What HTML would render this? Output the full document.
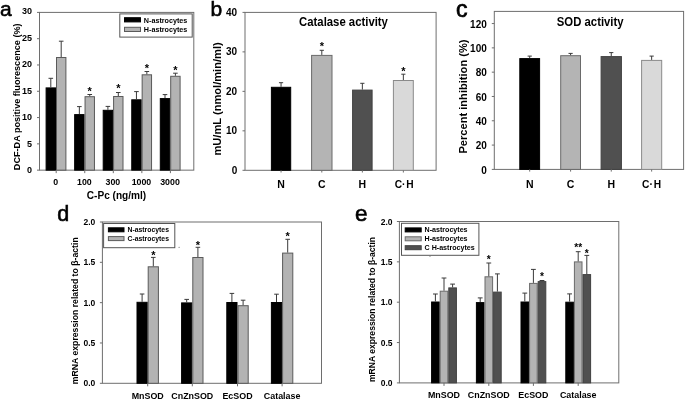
<!DOCTYPE html>
<html><head><meta charset="utf-8"><style>
html,body{margin:0;padding:0;background:#fff;}
svg{display:block;font-family:"Liberation Sans", sans-serif;filter:grayscale(1) blur(0.25px);}
</style></head><body>
<svg width="685" height="399" viewBox="0 0 685 399">
<rect width="685" height="399" fill="#fff"/>
<rect x="39.50" y="12.40" width="154.30" height="157.75" fill="none" stroke="#6e6e6e" stroke-width="1"/>
<line x1="37.00" y1="170.15" x2="39.50" y2="170.15" stroke="#6e6e6e" stroke-width="1"/>
<text x="31.90" y="173.05" font-size="9" font-weight="bold" text-anchor="end" fill="#000">0</text>
<line x1="37.00" y1="143.86" x2="39.50" y2="143.86" stroke="#6e6e6e" stroke-width="1"/>
<text x="31.90" y="146.61" font-size="9" font-weight="bold" text-anchor="end" fill="#000">5</text>
<line x1="37.00" y1="117.57" x2="39.50" y2="117.57" stroke="#6e6e6e" stroke-width="1"/>
<text x="31.90" y="120.17" font-size="9" font-weight="bold" text-anchor="end" fill="#000">10</text>
<line x1="37.00" y1="91.28" x2="39.50" y2="91.28" stroke="#6e6e6e" stroke-width="1"/>
<text x="31.90" y="93.73" font-size="9" font-weight="bold" text-anchor="end" fill="#000">15</text>
<line x1="37.00" y1="64.98" x2="39.50" y2="64.98" stroke="#6e6e6e" stroke-width="1"/>
<text x="31.90" y="67.28" font-size="9" font-weight="bold" text-anchor="end" fill="#000">20</text>
<line x1="37.00" y1="38.69" x2="39.50" y2="38.69" stroke="#6e6e6e" stroke-width="1"/>
<text x="31.90" y="40.84" font-size="9" font-weight="bold" text-anchor="end" fill="#000">25</text>
<line x1="37.00" y1="12.40" x2="39.50" y2="12.40" stroke="#6e6e6e" stroke-width="1"/>
<text x="31.90" y="14.40" font-size="9" font-weight="bold" text-anchor="end" fill="#000">30</text>
<rect x="46.10" y="87.90" width="9.40" height="82.25" fill="#000" stroke="#000" stroke-width="1"/>
<rect x="56.50" y="57.50" width="9.40" height="112.65" fill="#b3b3b3" stroke="#5a5a5a" stroke-width="1"/>
<line x1="50.80" y1="78.30" x2="50.80" y2="87.40" stroke="#3a3a3a" stroke-width="1"/>
<line x1="48.50" y1="78.30" x2="53.10" y2="78.30" stroke="#3a3a3a" stroke-width="1"/>
<line x1="61.20" y1="41.20" x2="61.20" y2="57.00" stroke="#3a3a3a" stroke-width="1"/>
<line x1="58.90" y1="41.20" x2="63.50" y2="41.20" stroke="#3a3a3a" stroke-width="1"/>
<line x1="56.20" y1="170.15" x2="56.20" y2="173.15" stroke="#6e6e6e" stroke-width="1"/>
<text x="55.80" y="185.00" font-size="8.8" font-weight="bold" text-anchor="middle" fill="#000">0</text>
<rect x="74.65" y="114.60" width="9.40" height="55.55" fill="#000" stroke="#000" stroke-width="1"/>
<rect x="85.05" y="96.70" width="9.40" height="73.45" fill="#b3b3b3" stroke="#5a5a5a" stroke-width="1"/>
<line x1="79.35" y1="106.60" x2="79.35" y2="114.10" stroke="#3a3a3a" stroke-width="1"/>
<line x1="77.05" y1="106.60" x2="81.65" y2="106.60" stroke="#3a3a3a" stroke-width="1"/>
<line x1="89.75" y1="94.50" x2="89.75" y2="96.20" stroke="#3a3a3a" stroke-width="1"/>
<line x1="87.45" y1="94.50" x2="92.05" y2="94.50" stroke="#3a3a3a" stroke-width="1"/>
<text x="89.75" y="94.72" font-size="11" font-weight="bold" text-anchor="middle" fill="#000">*</text>
<line x1="84.75" y1="170.15" x2="84.75" y2="173.15" stroke="#6e6e6e" stroke-width="1"/>
<text x="84.35" y="185.00" font-size="8.8" font-weight="bold" text-anchor="middle" fill="#000">100</text>
<rect x="103.20" y="110.30" width="9.40" height="59.85" fill="#000" stroke="#000" stroke-width="1"/>
<rect x="113.60" y="96.50" width="9.40" height="73.65" fill="#b3b3b3" stroke="#5a5a5a" stroke-width="1"/>
<line x1="107.90" y1="106.40" x2="107.90" y2="109.80" stroke="#3a3a3a" stroke-width="1"/>
<line x1="105.60" y1="106.40" x2="110.20" y2="106.40" stroke="#3a3a3a" stroke-width="1"/>
<line x1="118.30" y1="92.50" x2="118.30" y2="96.00" stroke="#3a3a3a" stroke-width="1"/>
<line x1="116.00" y1="92.50" x2="120.60" y2="92.50" stroke="#3a3a3a" stroke-width="1"/>
<text x="118.30" y="92.32" font-size="11" font-weight="bold" text-anchor="middle" fill="#000">*</text>
<line x1="113.30" y1="170.15" x2="113.30" y2="173.15" stroke="#6e6e6e" stroke-width="1"/>
<text x="112.90" y="185.00" font-size="8.8" font-weight="bold" text-anchor="middle" fill="#000">300</text>
<rect x="131.75" y="99.80" width="9.40" height="70.35" fill="#000" stroke="#000" stroke-width="1"/>
<rect x="142.15" y="74.80" width="9.40" height="95.35" fill="#b3b3b3" stroke="#5a5a5a" stroke-width="1"/>
<line x1="136.45" y1="91.60" x2="136.45" y2="99.30" stroke="#3a3a3a" stroke-width="1"/>
<line x1="134.15" y1="91.60" x2="138.75" y2="91.60" stroke="#3a3a3a" stroke-width="1"/>
<line x1="146.85" y1="71.50" x2="146.85" y2="74.30" stroke="#3a3a3a" stroke-width="1"/>
<line x1="144.55" y1="71.50" x2="149.15" y2="71.50" stroke="#3a3a3a" stroke-width="1"/>
<text x="146.85" y="72.32" font-size="11" font-weight="bold" text-anchor="middle" fill="#000">*</text>
<line x1="141.85" y1="170.15" x2="141.85" y2="173.15" stroke="#6e6e6e" stroke-width="1"/>
<text x="141.45" y="185.00" font-size="8.8" font-weight="bold" text-anchor="middle" fill="#000">1000</text>
<rect x="160.30" y="98.60" width="9.40" height="71.55" fill="#000" stroke="#000" stroke-width="1"/>
<rect x="170.70" y="76.30" width="9.40" height="93.85" fill="#b3b3b3" stroke="#5a5a5a" stroke-width="1"/>
<line x1="165.00" y1="94.60" x2="165.00" y2="98.10" stroke="#3a3a3a" stroke-width="1"/>
<line x1="162.70" y1="94.60" x2="167.30" y2="94.60" stroke="#3a3a3a" stroke-width="1"/>
<line x1="175.40" y1="73.20" x2="175.40" y2="75.80" stroke="#3a3a3a" stroke-width="1"/>
<line x1="173.10" y1="73.20" x2="177.70" y2="73.20" stroke="#3a3a3a" stroke-width="1"/>
<text x="175.40" y="74.02" font-size="11" font-weight="bold" text-anchor="middle" fill="#000">*</text>
<line x1="170.40" y1="170.15" x2="170.40" y2="173.15" stroke="#6e6e6e" stroke-width="1"/>
<text x="170.00" y="185.00" font-size="8.8" font-weight="bold" text-anchor="middle" fill="#000">3000</text>
<text x="116.50" y="199.00" font-size="10.1" font-weight="bold" text-anchor="middle" fill="#000">C-Pc (ng/ml)</text>
<text x="20.00" y="96.80" font-size="9.1" font-weight="bold" text-anchor="middle" fill="#000" transform="rotate(-90 20.00 96.80)">DCF-DA positive fluorescence (%)</text>
<text x="0.00" y="15.90" font-size="21" font-weight="normal" text-anchor="start" fill="#000" stroke="#000" stroke-width="0.6">a</text>
<rect x="119.80" y="13.90" width="72.40" height="23.20" fill="#fff" stroke="#555" stroke-width="1"/>
<rect x="124.50" y="17.70" width="16.00" height="4.20" fill="#000" stroke="#000" stroke-width="1"/>
<rect x="124.50" y="27.30" width="16.00" height="4.20" fill="#b3b3b3" stroke="#5a5a5a" stroke-width="1"/>
<text x="143.80" y="23.00" font-size="7.2" font-weight="bold" text-anchor="start" fill="#000">N-astrocytes</text>
<text x="143.80" y="32.40" font-size="7.2" font-weight="bold" text-anchor="start" fill="#000">H-astrocytes</text>
<rect x="245.00" y="12.40" width="191.10" height="157.90" fill="none" stroke="#6e6e6e" stroke-width="1"/>
<line x1="242.50" y1="170.30" x2="245.00" y2="170.30" stroke="#6e6e6e" stroke-width="1"/>
<text x="237.20" y="173.90" font-size="10" font-weight="bold" text-anchor="end" fill="#000">0</text>
<line x1="242.50" y1="130.83" x2="245.00" y2="130.83" stroke="#6e6e6e" stroke-width="1"/>
<text x="237.20" y="134.43" font-size="10" font-weight="bold" text-anchor="end" fill="#000">10</text>
<line x1="242.50" y1="91.35" x2="245.00" y2="91.35" stroke="#6e6e6e" stroke-width="1"/>
<text x="237.20" y="94.95" font-size="10" font-weight="bold" text-anchor="end" fill="#000">20</text>
<line x1="242.50" y1="51.88" x2="245.00" y2="51.88" stroke="#6e6e6e" stroke-width="1"/>
<text x="237.20" y="55.48" font-size="10" font-weight="bold" text-anchor="end" fill="#000">30</text>
<line x1="242.50" y1="12.40" x2="245.00" y2="12.40" stroke="#6e6e6e" stroke-width="1"/>
<text x="237.20" y="16.00" font-size="10" font-weight="bold" text-anchor="end" fill="#000">40</text>
<rect x="271.40" y="87.30" width="19.30" height="83.00" fill="#000" stroke="#000" stroke-width="1"/>
<line x1="281.05" y1="82.70" x2="281.05" y2="86.80" stroke="#3a3a3a" stroke-width="1"/>
<line x1="278.95" y1="82.70" x2="283.15" y2="82.70" stroke="#3a3a3a" stroke-width="1"/>
<line x1="281.05" y1="170.30" x2="281.05" y2="172.50" stroke="#6e6e6e" stroke-width="1"/>
<text x="281.05" y="188.30" font-size="10.5" font-weight="bold" text-anchor="middle" fill="#000">N</text>
<rect x="311.60" y="55.40" width="20.40" height="114.90" fill="#b4b4b4" stroke="#6a6a6a" stroke-width="1"/>
<line x1="321.80" y1="50.30" x2="321.80" y2="54.90" stroke="#3a3a3a" stroke-width="1"/>
<line x1="319.70" y1="50.30" x2="323.90" y2="50.30" stroke="#3a3a3a" stroke-width="1"/>
<text x="321.80" y="50.32" font-size="11" font-weight="bold" text-anchor="middle" fill="#000">*</text>
<line x1="321.80" y1="170.30" x2="321.80" y2="172.50" stroke="#6e6e6e" stroke-width="1"/>
<text x="321.80" y="188.30" font-size="10.5" font-weight="bold" text-anchor="middle" fill="#000">C</text>
<rect x="352.60" y="90.10" width="19.50" height="80.20" fill="#505050" stroke="#404040" stroke-width="1"/>
<line x1="362.35" y1="83.30" x2="362.35" y2="89.60" stroke="#3a3a3a" stroke-width="1"/>
<line x1="360.25" y1="83.30" x2="364.45" y2="83.30" stroke="#3a3a3a" stroke-width="1"/>
<line x1="362.35" y1="170.30" x2="362.35" y2="172.50" stroke="#6e6e6e" stroke-width="1"/>
<text x="362.35" y="188.30" font-size="10.5" font-weight="bold" text-anchor="middle" fill="#000">H</text>
<rect x="393.40" y="80.50" width="19.90" height="89.80" fill="#d9d9d9" stroke="#8a8a8a" stroke-width="1"/>
<line x1="403.35" y1="74.20" x2="403.35" y2="80.00" stroke="#3a3a3a" stroke-width="1"/>
<line x1="401.25" y1="74.20" x2="405.45" y2="74.20" stroke="#3a3a3a" stroke-width="1"/>
<text x="403.35" y="74.52" font-size="11" font-weight="bold" text-anchor="middle" fill="#000">*</text>
<line x1="403.35" y1="170.30" x2="403.35" y2="172.50" stroke="#6e6e6e" stroke-width="1"/>
<text x="398.40" y="188.40" font-size="10.2" font-weight="bold" text-anchor="middle" fill="#000">C</text>
<text x="403.70" y="188.40" font-size="10.2" font-weight="bold" text-anchor="middle" fill="#000">·</text>
<text x="410.00" y="188.40" font-size="10.2" font-weight="bold" text-anchor="middle" fill="#000">H</text>
<text x="343.50" y="25.70" font-size="12.4" font-weight="bold" text-anchor="middle" fill="#000" transform="translate(343.50 25.70) scale(0.915 1) translate(-343.50 -25.70)">Catalase activity</text>
<text x="221.00" y="98.90" font-size="11.1" font-weight="bold" text-anchor="middle" fill="#000" transform="rotate(-90 221.00 98.90)">mU/mL (nmol/min/ml)</text>
<text x="210.50" y="16.00" font-size="21" font-weight="normal" text-anchor="start" fill="#000" stroke="#000" stroke-width="0.6">b</text>
<rect x="494.30" y="11.40" width="189.30" height="158.00" fill="none" stroke="#6e6e6e" stroke-width="1"/>
<line x1="491.80" y1="169.40" x2="494.30" y2="169.40" stroke="#6e6e6e" stroke-width="1"/>
<text x="486.80" y="173.60" font-size="10" font-weight="bold" text-anchor="end" fill="#000">0</text>
<line x1="491.80" y1="145.09" x2="494.30" y2="145.09" stroke="#6e6e6e" stroke-width="1"/>
<text x="486.80" y="149.29" font-size="10" font-weight="bold" text-anchor="end" fill="#000">20</text>
<line x1="491.80" y1="120.78" x2="494.30" y2="120.78" stroke="#6e6e6e" stroke-width="1"/>
<text x="486.80" y="124.98" font-size="10" font-weight="bold" text-anchor="end" fill="#000">40</text>
<line x1="491.80" y1="96.48" x2="494.30" y2="96.48" stroke="#6e6e6e" stroke-width="1"/>
<text x="486.80" y="100.68" font-size="10" font-weight="bold" text-anchor="end" fill="#000">60</text>
<line x1="491.80" y1="72.17" x2="494.30" y2="72.17" stroke="#6e6e6e" stroke-width="1"/>
<text x="486.80" y="76.37" font-size="10" font-weight="bold" text-anchor="end" fill="#000">80</text>
<line x1="491.80" y1="47.86" x2="494.30" y2="47.86" stroke="#6e6e6e" stroke-width="1"/>
<text x="486.80" y="52.06" font-size="10" font-weight="bold" text-anchor="end" fill="#000">100</text>
<line x1="491.80" y1="23.55" x2="494.30" y2="23.55" stroke="#6e6e6e" stroke-width="1"/>
<text x="486.80" y="27.75" font-size="10" font-weight="bold" text-anchor="end" fill="#000">120</text>
<rect x="519.80" y="58.60" width="19.80" height="110.80" fill="#000" stroke="#000" stroke-width="1"/>
<line x1="529.70" y1="56.10" x2="529.70" y2="58.10" stroke="#3a3a3a" stroke-width="1"/>
<line x1="527.60" y1="56.10" x2="531.80" y2="56.10" stroke="#3a3a3a" stroke-width="1"/>
<line x1="529.70" y1="169.40" x2="529.70" y2="171.60" stroke="#6e6e6e" stroke-width="1"/>
<text x="529.70" y="188.30" font-size="10.5" font-weight="bold" text-anchor="middle" fill="#000">N</text>
<rect x="560.70" y="55.70" width="19.80" height="113.70" fill="#b4b4b4" stroke="#6a6a6a" stroke-width="1"/>
<line x1="570.60" y1="53.40" x2="570.60" y2="55.20" stroke="#3a3a3a" stroke-width="1"/>
<line x1="568.50" y1="53.40" x2="572.70" y2="53.40" stroke="#3a3a3a" stroke-width="1"/>
<line x1="570.60" y1="169.40" x2="570.60" y2="171.60" stroke="#6e6e6e" stroke-width="1"/>
<text x="570.60" y="188.30" font-size="10.5" font-weight="bold" text-anchor="middle" fill="#000">C</text>
<rect x="601.10" y="56.60" width="20.30" height="112.80" fill="#505050" stroke="#404040" stroke-width="1"/>
<line x1="611.25" y1="52.60" x2="611.25" y2="56.10" stroke="#3a3a3a" stroke-width="1"/>
<line x1="609.15" y1="52.60" x2="613.35" y2="52.60" stroke="#3a3a3a" stroke-width="1"/>
<line x1="611.25" y1="169.40" x2="611.25" y2="171.60" stroke="#6e6e6e" stroke-width="1"/>
<text x="611.25" y="188.30" font-size="10.5" font-weight="bold" text-anchor="middle" fill="#000">H</text>
<rect x="641.60" y="60.40" width="20.10" height="109.00" fill="#d9d9d9" stroke="#8a8a8a" stroke-width="1"/>
<line x1="651.65" y1="56.10" x2="651.65" y2="59.90" stroke="#3a3a3a" stroke-width="1"/>
<line x1="649.55" y1="56.10" x2="653.75" y2="56.10" stroke="#3a3a3a" stroke-width="1"/>
<line x1="651.65" y1="169.40" x2="651.65" y2="171.60" stroke="#6e6e6e" stroke-width="1"/>
<text x="645.80" y="187.90" font-size="10.2" font-weight="bold" text-anchor="middle" fill="#000">C</text>
<text x="651.10" y="187.90" font-size="10.2" font-weight="bold" text-anchor="middle" fill="#000">·</text>
<text x="657.40" y="187.90" font-size="10.2" font-weight="bold" text-anchor="middle" fill="#000">H</text>
<text x="590.20" y="25.90" font-size="12.4" font-weight="bold" text-anchor="middle" fill="#000" transform="translate(590.20 25.90) scale(0.915 1) translate(-590.20 -25.90)">SOD activity</text>
<text x="466.70" y="96.50" font-size="11.1" font-weight="bold" text-anchor="middle" fill="#000" transform="rotate(-90 466.70 96.50)">Percent inhibition (%)</text>
<text x="455.90" y="16.50" font-size="23" font-weight="normal" text-anchor="start" fill="#000" stroke="#000" stroke-width="0.7">c</text>
<rect x="102.40" y="222.00" width="219.10" height="161.30" fill="none" stroke="#6e6e6e" stroke-width="1"/>
<line x1="99.90" y1="383.30" x2="102.40" y2="383.30" stroke="#6e6e6e" stroke-width="1"/>
<text x="95.30" y="386.30" font-size="8.5" font-weight="bold" text-anchor="end" fill="#000">0.0</text>
<line x1="99.90" y1="342.98" x2="102.40" y2="342.98" stroke="#6e6e6e" stroke-width="1"/>
<text x="95.30" y="345.98" font-size="8.5" font-weight="bold" text-anchor="end" fill="#000">0.5</text>
<line x1="99.90" y1="302.65" x2="102.40" y2="302.65" stroke="#6e6e6e" stroke-width="1"/>
<text x="95.30" y="305.65" font-size="8.5" font-weight="bold" text-anchor="end" fill="#000">1.0</text>
<line x1="99.90" y1="262.32" x2="102.40" y2="262.32" stroke="#6e6e6e" stroke-width="1"/>
<text x="95.30" y="265.32" font-size="8.5" font-weight="bold" text-anchor="end" fill="#000">1.5</text>
<line x1="99.90" y1="222.00" x2="102.40" y2="222.00" stroke="#6e6e6e" stroke-width="1"/>
<text x="95.30" y="225.00" font-size="8.5" font-weight="bold" text-anchor="end" fill="#000">2.0</text>
<rect x="137.00" y="302.30" width="10.20" height="81.00" fill="#000" stroke="#000" stroke-width="1"/>
<rect x="148.20" y="266.80" width="10.20" height="116.50" fill="#b3b3b3" stroke="#5a5a5a" stroke-width="1"/>
<line x1="142.10" y1="294.00" x2="142.10" y2="301.80" stroke="#3a3a3a" stroke-width="1"/>
<line x1="139.80" y1="294.00" x2="144.40" y2="294.00" stroke="#3a3a3a" stroke-width="1"/>
<line x1="153.30" y1="257.40" x2="153.30" y2="266.30" stroke="#3a3a3a" stroke-width="1"/>
<line x1="151.00" y1="257.40" x2="155.60" y2="257.40" stroke="#3a3a3a" stroke-width="1"/>
<text x="153.30" y="259.02" font-size="11" font-weight="bold" text-anchor="middle" fill="#000">*</text>
<line x1="147.70" y1="383.30" x2="147.70" y2="386.30" stroke="#6e6e6e" stroke-width="1"/>
<text x="147.70" y="398.60" font-size="8.9" font-weight="bold" text-anchor="middle" fill="#000">MnSOD</text>
<rect x="181.60" y="302.90" width="10.20" height="80.40" fill="#000" stroke="#000" stroke-width="1"/>
<rect x="192.80" y="257.50" width="10.20" height="125.80" fill="#b3b3b3" stroke="#5a5a5a" stroke-width="1"/>
<line x1="186.70" y1="299.40" x2="186.70" y2="302.40" stroke="#3a3a3a" stroke-width="1"/>
<line x1="184.40" y1="299.40" x2="189.00" y2="299.40" stroke="#3a3a3a" stroke-width="1"/>
<line x1="197.90" y1="247.30" x2="197.90" y2="257.00" stroke="#3a3a3a" stroke-width="1"/>
<line x1="195.60" y1="247.30" x2="200.20" y2="247.30" stroke="#3a3a3a" stroke-width="1"/>
<text x="197.90" y="248.72" font-size="11" font-weight="bold" text-anchor="middle" fill="#000">*</text>
<line x1="192.30" y1="383.30" x2="192.30" y2="386.30" stroke="#6e6e6e" stroke-width="1"/>
<text x="192.30" y="398.60" font-size="8.9" font-weight="bold" text-anchor="middle" fill="#000">CnZnSOD</text>
<rect x="226.80" y="302.50" width="10.20" height="80.80" fill="#000" stroke="#000" stroke-width="1"/>
<rect x="238.00" y="305.70" width="10.20" height="77.60" fill="#b3b3b3" stroke="#5a5a5a" stroke-width="1"/>
<line x1="231.90" y1="293.40" x2="231.90" y2="302.00" stroke="#3a3a3a" stroke-width="1"/>
<line x1="229.60" y1="293.40" x2="234.20" y2="293.40" stroke="#3a3a3a" stroke-width="1"/>
<line x1="243.10" y1="300.20" x2="243.10" y2="305.20" stroke="#3a3a3a" stroke-width="1"/>
<line x1="240.80" y1="300.20" x2="245.40" y2="300.20" stroke="#3a3a3a" stroke-width="1"/>
<line x1="237.50" y1="383.30" x2="237.50" y2="386.30" stroke="#6e6e6e" stroke-width="1"/>
<text x="237.50" y="398.60" font-size="8.9" font-weight="bold" text-anchor="middle" fill="#000">EcSOD</text>
<rect x="271.40" y="302.50" width="10.20" height="80.80" fill="#000" stroke="#000" stroke-width="1"/>
<rect x="282.60" y="253.10" width="10.20" height="130.20" fill="#b3b3b3" stroke="#5a5a5a" stroke-width="1"/>
<line x1="276.50" y1="294.20" x2="276.50" y2="302.00" stroke="#3a3a3a" stroke-width="1"/>
<line x1="274.20" y1="294.20" x2="278.80" y2="294.20" stroke="#3a3a3a" stroke-width="1"/>
<line x1="287.70" y1="239.30" x2="287.70" y2="252.60" stroke="#3a3a3a" stroke-width="1"/>
<line x1="285.40" y1="239.30" x2="290.00" y2="239.30" stroke="#3a3a3a" stroke-width="1"/>
<text x="287.70" y="239.82" font-size="11" font-weight="bold" text-anchor="middle" fill="#000">*</text>
<line x1="282.10" y1="383.30" x2="282.10" y2="386.30" stroke="#6e6e6e" stroke-width="1"/>
<text x="282.10" y="398.60" font-size="8.9" font-weight="bold" text-anchor="middle" fill="#000">Catalase</text>
<text x="78.00" y="310.75" font-size="8.7" font-weight="bold" text-anchor="middle" fill="#000" transform="rotate(-90 78.00 310.75)">mRNA expression related to β-actin</text>
<text x="57.30" y="221.30" font-size="21.5" font-weight="normal" text-anchor="start" fill="#000" stroke="#000" stroke-width="0.6">d</text>
<rect x="103.60" y="223.50" width="71.20" height="24.20" fill="#fff" stroke="#555" stroke-width="1"/>
<rect x="108.40" y="227.80" width="15.60" height="4.00" fill="#000" stroke="#000" stroke-width="1"/>
<rect x="108.40" y="236.60" width="15.60" height="4.00" fill="#b3b3b3" stroke="#5a5a5a" stroke-width="1"/>
<text x="127.50" y="232.20" font-size="6.85" font-weight="bold" text-anchor="start" fill="#000">N-astrocytes</text>
<text x="127.50" y="241.00" font-size="6.85" font-weight="bold" text-anchor="start" fill="#000">C-astrocytes</text>
<circle cx="179.1" cy="247.3" r="0.6" fill="#777"/>
<rect x="399.40" y="221.50" width="219.40" height="161.40" fill="none" stroke="#6e6e6e" stroke-width="1"/>
<line x1="396.90" y1="382.90" x2="399.40" y2="382.90" stroke="#6e6e6e" stroke-width="1"/>
<text x="392.50" y="385.90" font-size="8.5" font-weight="bold" text-anchor="end" fill="#000">0.0</text>
<line x1="396.90" y1="342.55" x2="399.40" y2="342.55" stroke="#6e6e6e" stroke-width="1"/>
<text x="392.50" y="345.55" font-size="8.5" font-weight="bold" text-anchor="end" fill="#000">0.5</text>
<line x1="396.90" y1="302.20" x2="399.40" y2="302.20" stroke="#6e6e6e" stroke-width="1"/>
<text x="392.50" y="305.20" font-size="8.5" font-weight="bold" text-anchor="end" fill="#000">1.0</text>
<line x1="396.90" y1="261.85" x2="399.40" y2="261.85" stroke="#6e6e6e" stroke-width="1"/>
<text x="392.50" y="264.85" font-size="8.5" font-weight="bold" text-anchor="end" fill="#000">1.5</text>
<line x1="396.90" y1="221.50" x2="399.40" y2="221.50" stroke="#6e6e6e" stroke-width="1"/>
<text x="392.50" y="224.50" font-size="8.5" font-weight="bold" text-anchor="end" fill="#000">2.0</text>
<rect x="431.60" y="302.00" width="7.60" height="80.90" fill="#000" stroke="#000" stroke-width="1"/>
<line x1="435.40" y1="294.00" x2="435.40" y2="301.50" stroke="#3a3a3a" stroke-width="1"/>
<line x1="433.00" y1="294.00" x2="437.80" y2="294.00" stroke="#3a3a3a" stroke-width="1"/>
<rect x="440.20" y="291.20" width="7.60" height="91.70" fill="#b4b4b4" stroke="#6a6a6a" stroke-width="1"/>
<line x1="444.00" y1="278.00" x2="444.00" y2="290.70" stroke="#3a3a3a" stroke-width="1"/>
<line x1="441.60" y1="278.00" x2="446.40" y2="278.00" stroke="#3a3a3a" stroke-width="1"/>
<rect x="448.80" y="287.90" width="7.60" height="95.00" fill="#505050" stroke="#404040" stroke-width="1"/>
<line x1="452.60" y1="284.10" x2="452.60" y2="287.40" stroke="#3a3a3a" stroke-width="1"/>
<line x1="450.20" y1="284.10" x2="455.00" y2="284.10" stroke="#3a3a3a" stroke-width="1"/>
<line x1="444.00" y1="382.90" x2="444.00" y2="385.90" stroke="#6e6e6e" stroke-width="1"/>
<text x="444.00" y="397.50" font-size="8.9" font-weight="bold" text-anchor="middle" fill="#000">MnSOD</text>
<rect x="476.40" y="302.60" width="7.60" height="80.30" fill="#000" stroke="#000" stroke-width="1"/>
<line x1="480.20" y1="297.90" x2="480.20" y2="302.10" stroke="#3a3a3a" stroke-width="1"/>
<line x1="477.80" y1="297.90" x2="482.60" y2="297.90" stroke="#3a3a3a" stroke-width="1"/>
<rect x="485.00" y="276.80" width="7.60" height="106.10" fill="#b4b4b4" stroke="#6a6a6a" stroke-width="1"/>
<line x1="488.80" y1="263.00" x2="488.80" y2="276.30" stroke="#3a3a3a" stroke-width="1"/>
<line x1="486.40" y1="263.00" x2="491.20" y2="263.00" stroke="#3a3a3a" stroke-width="1"/>
<text x="488.80" y="262.72" font-size="10.2" font-weight="bold" text-anchor="middle" fill="#000">*</text>
<rect x="493.60" y="292.10" width="7.60" height="90.80" fill="#505050" stroke="#404040" stroke-width="1"/>
<line x1="497.40" y1="273.90" x2="497.40" y2="291.60" stroke="#3a3a3a" stroke-width="1"/>
<line x1="495.00" y1="273.90" x2="499.80" y2="273.90" stroke="#3a3a3a" stroke-width="1"/>
<line x1="488.80" y1="382.90" x2="488.80" y2="385.90" stroke="#6e6e6e" stroke-width="1"/>
<text x="488.80" y="397.50" font-size="8.9" font-weight="bold" text-anchor="middle" fill="#000">CnZnSOD</text>
<rect x="521.00" y="302.00" width="7.60" height="80.90" fill="#000" stroke="#000" stroke-width="1"/>
<line x1="524.80" y1="293.10" x2="524.80" y2="301.50" stroke="#3a3a3a" stroke-width="1"/>
<line x1="522.40" y1="293.10" x2="527.20" y2="293.10" stroke="#3a3a3a" stroke-width="1"/>
<rect x="529.60" y="283.40" width="7.60" height="99.50" fill="#b4b4b4" stroke="#6a6a6a" stroke-width="1"/>
<line x1="533.40" y1="269.40" x2="533.40" y2="282.90" stroke="#3a3a3a" stroke-width="1"/>
<line x1="531.00" y1="269.40" x2="535.80" y2="269.40" stroke="#3a3a3a" stroke-width="1"/>
<rect x="538.20" y="281.60" width="7.60" height="101.30" fill="#505050" stroke="#404040" stroke-width="1"/>
<line x1="542.00" y1="280.50" x2="542.00" y2="281.10" stroke="#3a3a3a" stroke-width="1"/>
<line x1="539.60" y1="280.50" x2="544.40" y2="280.50" stroke="#3a3a3a" stroke-width="1"/>
<text x="542.00" y="280.22" font-size="10.2" font-weight="bold" text-anchor="middle" fill="#000">*</text>
<line x1="533.40" y1="382.90" x2="533.40" y2="385.90" stroke="#6e6e6e" stroke-width="1"/>
<text x="533.40" y="397.50" font-size="8.9" font-weight="bold" text-anchor="middle" fill="#000">EcSOD</text>
<rect x="565.80" y="302.20" width="7.60" height="80.70" fill="#000" stroke="#000" stroke-width="1"/>
<line x1="569.60" y1="293.90" x2="569.60" y2="301.70" stroke="#3a3a3a" stroke-width="1"/>
<line x1="567.20" y1="293.90" x2="572.00" y2="293.90" stroke="#3a3a3a" stroke-width="1"/>
<rect x="574.40" y="261.90" width="7.60" height="121.00" fill="#b4b4b4" stroke="#6a6a6a" stroke-width="1"/>
<line x1="578.20" y1="251.70" x2="578.20" y2="261.40" stroke="#3a3a3a" stroke-width="1"/>
<line x1="575.80" y1="251.70" x2="580.60" y2="251.70" stroke="#3a3a3a" stroke-width="1"/>
<text x="578.20" y="251.42" font-size="10.2" font-weight="bold" text-anchor="middle" fill="#000">**</text>
<rect x="583.00" y="274.60" width="7.60" height="108.30" fill="#505050" stroke="#404040" stroke-width="1"/>
<line x1="586.80" y1="255.40" x2="586.80" y2="274.10" stroke="#3a3a3a" stroke-width="1"/>
<line x1="584.40" y1="255.40" x2="589.20" y2="255.40" stroke="#3a3a3a" stroke-width="1"/>
<text x="586.80" y="256.52" font-size="10.2" font-weight="bold" text-anchor="middle" fill="#000">*</text>
<line x1="578.20" y1="382.90" x2="578.20" y2="385.90" stroke="#6e6e6e" stroke-width="1"/>
<text x="578.20" y="397.50" font-size="8.9" font-weight="bold" text-anchor="middle" fill="#000">Catalase</text>
<text x="375.40" y="309.50" font-size="8.58" font-weight="bold" text-anchor="middle" fill="#000" transform="rotate(-90 375.40 309.50)">mRNA expression related to β-actin</text>
<text x="355.00" y="220.90" font-size="22.5" font-weight="normal" text-anchor="start" fill="#000" stroke="#000" stroke-width="0.6">e</text>
<rect x="401.50" y="223.30" width="77.40" height="32.00" fill="#fff" stroke="#555" stroke-width="1"/>
<rect x="405.20" y="227.90" width="16.00" height="4.00" fill="#000" stroke="#000" stroke-width="1"/>
<text x="424.60" y="232.40" font-size="7.1" font-weight="bold" text-anchor="start" fill="#000">N-astrocytes</text>
<rect x="405.20" y="236.80" width="16.00" height="4.00" fill="#b4b4b4" stroke="#6a6a6a" stroke-width="1"/>
<text x="424.60" y="241.30" font-size="7.1" font-weight="bold" text-anchor="start" fill="#000">H-astrocytes</text>
<rect x="405.20" y="245.70" width="16.00" height="4.00" fill="#505050" stroke="#404040" stroke-width="1"/>
<text x="424.60" y="250.20" font-size="7.1" font-weight="bold" text-anchor="start" fill="#000">C H-astrocytes</text>
<circle cx="430" cy="256.2" r="0.6" fill="#777"/>
</svg>
</body></html>
